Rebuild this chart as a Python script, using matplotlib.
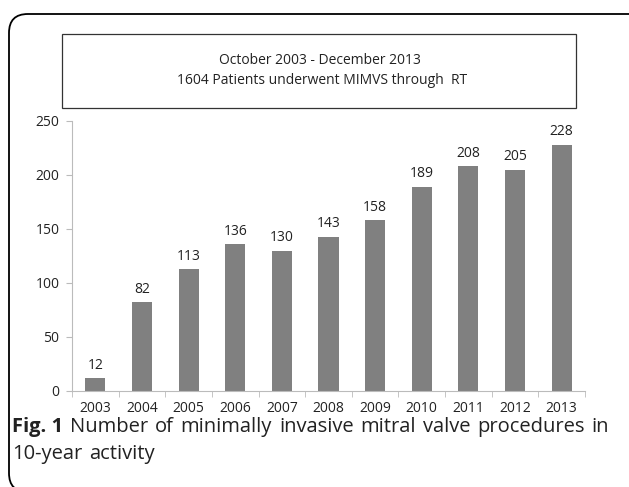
import matplotlib
matplotlib.use("Agg")
import matplotlib.pyplot as plt
from matplotlib.patches import FancyBboxPatch, Rectangle

years = ["2003", "2004", "2005", "2006", "2007", "2008", "2009", "2010", "2011", "2012", "2013"]
counts = [12, 82, 113, 136, 130, 143, 158, 189, 208, 205, 228]
yticks = [0, 50, 100, 150, 200, 250]
title_lines = ["October 2003 - December 2013", "1604 Patients underwent MIMVS through  RT"]
caption_label = "Fig. 1"
caption_line1 = "Number of minimally invasive mitral valve procedures in"
caption_line2 = "10-year activity"

plt.rcParams['font.family'] = ['Open Sans', 'DejaVu Sans']
W, H = 629, 487
fig = plt.figure(figsize=(W/100, H/100), dpi=100)

def fx(px): return px / W
def fy(py): return 1 - py / H

# outer rounded frame
frame = FancyBboxPatch((fx(9), fy(492)), fx(700), fy(14) - fy(492),
                       boxstyle="round,pad=0,rounding_size=0.03",
                       transform=fig.transFigure, fill=False, ec="black", lw=1.3,
                       mutation_aspect=W/H)
fig.patches.append(frame)

# title box
tb = Rectangle((fx(62), fy(108)), fx(576) - fx(62), fy(34) - fy(108),
               transform=fig.transFigure, fill=False, ec="#333333", lw=0.9)
fig.patches.append(tb)
fig.text(fx(320), fy(60), title_lines[0], ha="center", va="center", fontsize=10, color="#222222")
fig.text(fx(322), fy(80), title_lines[1], ha="center", va="center", fontsize=10, color="#222222")

ax = fig.add_axes([fx(72), fy(391), fx(585) - fx(72), fy(121) - fy(391)])
x = range(len(years))
ax.bar(x, counts, width=0.43, color="#808080")
for xi, c in zip(x, counts):
    ax.text(xi, c + 5, str(c), ha="center", va="bottom", fontsize=10, color="#222222")
ax.set_xlim(-0.5, len(years) - 0.5)
ax.set_ylim(0, 250)
ax.set_yticks(yticks)
ax.set_yticklabels([str(v) for v in yticks], fontsize=10, color="#222222")
ax.set_xticks(list(x))
ax.set_xticklabels(years, fontsize=10, color="#222222")
ax.set_xticks([i - 0.5 for i in range(len(years) + 1)], minor=True)
ax.tick_params(axis="x", which="major", length=0, pad=7)
ax.tick_params(axis="x", which="minor", length=4, color="#bbbbbb")
ax.tick_params(axis="y", length=4, color="#bbbbbb", pad=5)
for s in ["top", "right"]:
    ax.spines[s].set_visible(False)
ax.spines["left"].set_color("#bbbbbb")
ax.spines["bottom"].set_color("#bbbbbb")

# justified caption first line
fs = 14.5
renderer = fig.canvas.get_renderer()
words = [(caption_label, "bold")] + [(w, "normal") for w in caption_line1.split()]
texts = []
for w, wt in words:
    t = fig.text(0, fy(427), w, ha="left", va="center", fontsize=fs, fontweight=wt, color="#222222")
    texts.append(t)
widths = [t.get_window_extent(renderer).width for t in texts]
x0, x1 = 12, 609
gap = (x1 - x0 - sum(widths)) / (len(texts) - 1)
cur = x0
for t, wd in zip(texts, widths):
    t.set_x(fx(cur))
    cur += wd + gap
cur = 12
for w in caption_line2.split():
    t = fig.text(fx(cur), fy(454), w, ha="left", va="center", fontsize=fs, color="#222222")
    cur += t.get_window_extent(renderer).width + gap

fig.savefig("out.png", dpi=100)
